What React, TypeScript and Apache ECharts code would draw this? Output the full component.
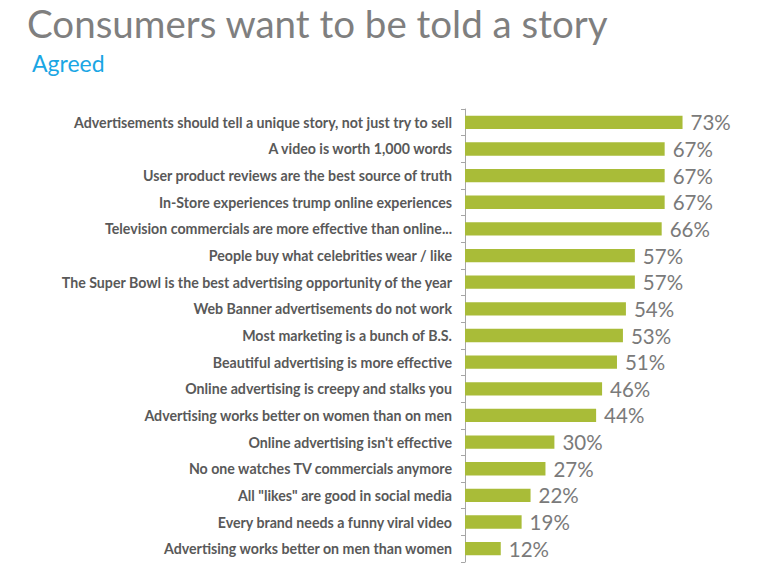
import React, { useEffect, useRef } from "react";
import * as echarts from "echarts";

const categories: string[] = [
  "Advertisements should tell a unique story, not just try to sell",
  "A video is worth 1,000 words",
  "User product reviews are the best source of truth",
  "In-Store experiences trump online experiences",
  "Television commercials are more effective than online...",
  "People buy what celebrities wear / like",
  "The Super Bowl is the best advertising opportunity of the year",
  "Web Banner advertisements do not work",
  "Most marketing is a bunch of B.S.",
  "Beautiful advertising is more effective",
  "Online advertising is creepy and stalks you",
  "Advertising works better on women than on men",
  "Online advertising isn't effective",
  "No one watches TV commercials anymore",
  "All \"likes\" are good in social media",
  "Every brand needs a funny viral video",
  "Advertising works better on men than women",
];

const agreed: number[] = [73, 67, 67, 67, 66, 57, 57, 54, 53, 51, 46, 44, 30, 27, 22, 19, 12];

const titleText = "Consumers want to be told a story";
const subtitleText = "Agreed";

export default function App() {
  const ref = useRef<HTMLDivElement>(null);
  useEffect(() => {
    document.body.style.margin = "0";
    if (!ref.current) return;
    const chart = echarts.init(ref.current, undefined, { renderer: "svg" });
    chart.setOption({
      animation: false,
      backgroundColor: "#ffffff",
      title: [
        {
          text: titleText,
          left: 27,
          top: 3,
          padding: 0,
          textStyle: { fontFamily: "Lato", fontSize: 38.5, fontWeight: "normal", color: "#7f7f7f" },
        },
        {
          text: subtitleText,
          left: 32,
          top: 51,
          padding: 0,
          textStyle: { fontFamily: "Lato", fontSize: 23, fontWeight: "normal", color: "#1aa6e4" },
        },
      ],
      grid: { left: 465, top: 109, width: 298, height: 453, containLabel: false },
      xAxis: {
        type: "value",
        min: 0,
        max: 100,
        show: false,
      },
      yAxis: {
        type: "category",
        inverse: true,
        data: categories,
        axisLine: { show: true, lineStyle: { color: "#a6a6a6", width: 1 } },
        axisTick: { show: true, length: 4, lineStyle: { color: "#a6a6a6" } },
        axisLabel: {
          margin: 13,
          fontFamily: "Lato",
          fontWeight: "bold",
          fontSize: 14.2,
          color: "#595959",
        },
      },
      series: [
        {
          type: "bar",
          data: agreed,
          barWidth: "50%",
          itemStyle: { color: "#a9bc38" },
          label: {
            show: true,
            position: "right",
            distance: 8,
            formatter: "{c}%",
            fontFamily: "Lato",
            fontSize: 20.5,
            color: "#7a7a7a",
          },
        },
      ],
    });
    return () => chart.dispose();
  }, []);
  return <div ref={ref} style={{ width: 768, height: 571 }} />;
}
